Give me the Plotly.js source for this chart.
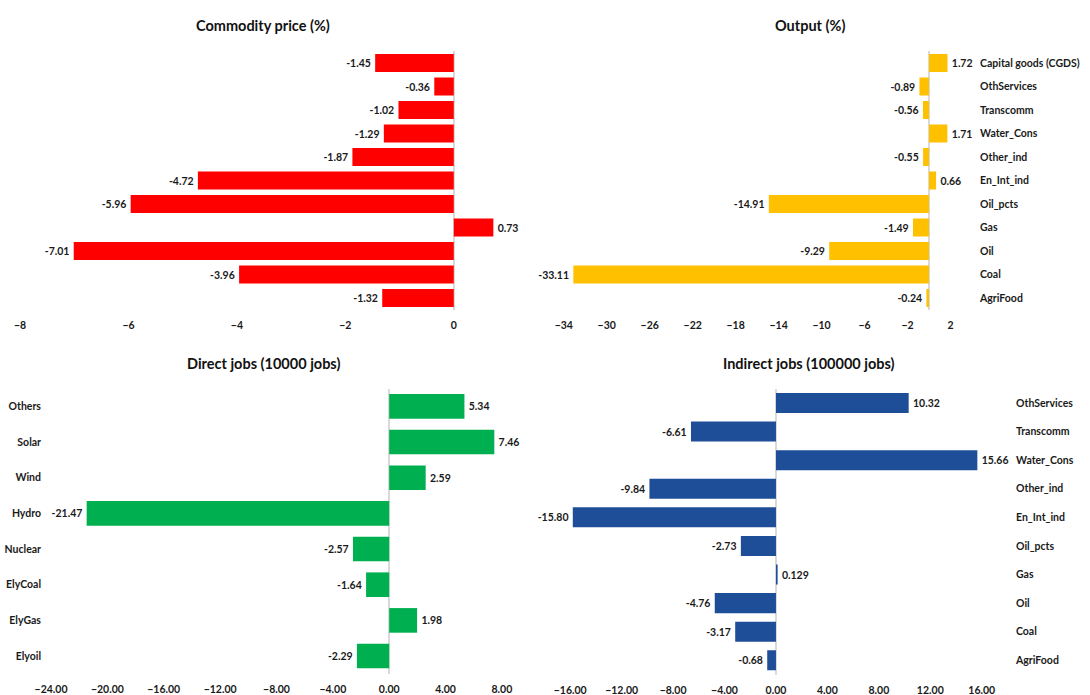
<!DOCTYPE html>
<html>
<head>
<meta charset="utf-8">
<script src="https://cdn.plot.ly/plotly-3.0.1.min.js"></script>
<style>html,body{margin:0;padding:0;background:#fff;}#chart{width:1090px;height:695px;}</style>
</head>
<body>
<div id="chart"></div>
<script>
// ---- data ----
const sectorCats = ["Capital goods (CGDS)", "OthServices", "Transcomm", "Water_Cons", "Other_ind", "En_Int_ind", "Oil_pcts", "Gas", "Oil", "Coal", "AgriFood"];
const priceVals = [-1.45, -0.36, -1.02, -1.29, -1.87, -4.72, -5.96, 0.73, -7.01, -3.96, -1.32];
const outputVals = [1.72, -0.89, -0.56, 1.71, -0.55, 0.66, -14.91, -1.49, -9.29, -33.11, -0.24];
const directCats = ["Others", "Solar", "Wind", "Hydro", "Nuclear", "ElyCoal", "ElyGas", "Elyoil"];
const directVals = [5.34, 7.46, 2.59, -21.47, -2.57, -1.64, 1.98, -2.29];
const indirectCats = ["OthServices", "Transcomm", "Water_Cons", "Other_ind", "En_Int_ind", "Oil_pcts", "Gas", "Oil", "Coal", "AgriFood"];
const indirectVals = [10.32, -6.61, 15.66, -9.84, -15.80, -2.73, 0.129, -4.76, -3.17, -0.68];
const titles = ["Commodity price (%)", "Output (%)", "Direct jobs (10000 jobs)", "Indirect jobs (100000 jobs)"];

const W = 1090, H = 695;
const FONT = "Lato, 'Open Sans', sans-serif";
const TXT = "#1a1a1a";

function lbl(v, minDec) {
  let s = String(v);
  const dec = s.includes(".") ? s.split(".")[1].length : 0;
  return dec >= minDec ? s : v.toFixed(minDec);
}
function px(a, b) { return [a / W, b / W]; }
function py(top, bottom) { return [1 - bottom / H, 1 - top / H]; }

function barTrace(cats, vals, color, xa, ya, minDec, w) {
  return {
    type: "bar", orientation: "h", y: cats, x: vals,
    xaxis: xa, yaxis: ya, width: w,
    marker: { color: color, line: { width: 0 } },
    text: vals.map(v => "\u2009" + lbl(v, minDec) + "\u2009"),
    textposition: "outside", cliponaxis: false, constraintext: "none",
    textfont: { family: FONT, size: 10.5, color: TXT, weight: "bold" },
    hoverinfo: "x+y", showlegend: false
  };
}

const data = [
  barTrace(sectorCats, priceVals, "#FF0000", "x", "y", 2, 0.77),
  barTrace(sectorCats, outputVals, "#FFC000", "x2", "y2", 2, 0.77),
  barTrace(directCats, directVals, "#00B050", "x3", "y3", 2, 0.69),
  barTrace(indirectCats, indirectVals, "#1F4E99", "x4", "y4", 2, 0.70)
];

const tickFont = { family: FONT, size: 10.5, color: TXT, weight: "bold" };
function xax(domain, range, dtick, tick0, fmt, anchor) {
  return {
    domain: domain, range: range, dtick: dtick, tick0: tick0, tickformat: fmt,
    anchor: anchor, showgrid: false, zeroline: true, zerolinecolor: "#d9d9d9", zerolinewidth: 1.5,
    showline: false, ticks: "", tickfont: tickFont, fixedrange: true, ticklabelstandoff: 8
  };
}
function yax(domain, n, side, show, anchor, standoff) {
  return {
    domain: domain, type: "category", range: [n - 0.5, -0.5], anchor: anchor, side: side,
    showgrid: false, zeroline: false, showline: false, ticks: "", showticklabels: show,
    tickfont: tickFont, fixedrange: true, ticklabelstandoff: standoff
  };
}

const yTop = py(51.25, 309.75);
const yBot3 = py(388.5, 673.9);
const yBot4 = py(388.7, 674.6);

const layout = {
  width: W, height: H,
  margin: { l: 0, r: 0, t: 0, b: 0 },
  paper_bgcolor: "#fff", plot_bgcolor: "rgba(0,0,0,0)",
  font: { family: FONT, color: TXT },
  xaxis: xax(px(20, 508), [-8.001, 1], 2, 0, "", "y"),
  yaxis: yax(yTop, sectorCats.length, "left", false, "x", 0),
  xaxis2: xax(px(548, 974), [-35.47, 4.19], 4, -34, "", "y2"),
  yaxis2: yax(yTop, sectorCats.length, "right", true, "x2", 5),
  xaxis3: xax(px(51, 516), [-24.001, 9], 4, 0, ".2f", "y3"),
  yaxis3: yax(yBot3, directCats.length, "left", true, "x3", 9),
  xaxis4: xax(px(567, 1005), [-16.25, 17.81], 4, 0, ".2f", "y4"),
  yaxis4: yax(yBot4, indirectCats.length, "right", true, "x4", 10),
  annotations: [
    [titles[0], 263, 25], [titles[1], 810, 25], [titles[2], 263, 363], [titles[3], 809, 363]
  ].map(t => ({
    text: t[0], xref: "paper", yref: "paper", x: t[1] / W, y: 1 - t[2] / H,
    xanchor: "center", yanchor: "middle", showarrow: false,
    font: { family: FONT, size: 14.5, color: "#111", weight: "bold" }
  }))
};

Plotly.newPlot("chart", data, layout, { displayModeBar: false, staticPlot: true });
</script>
</body>
</html>
